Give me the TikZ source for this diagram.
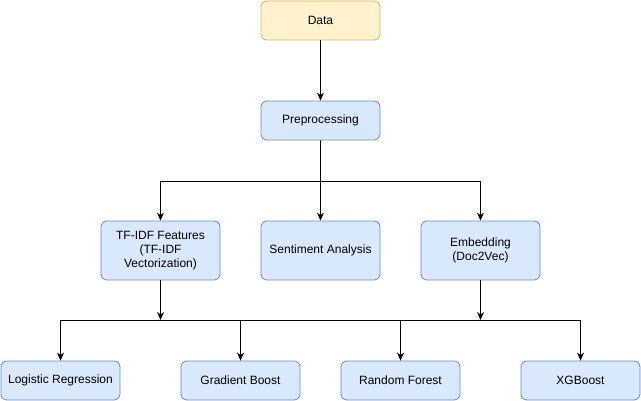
\documentclass[tikz,border=0pt]{standalone}
\usepackage{fontspec}
\setmainfont{Liberation Sans}
\usetikzlibrary{arrows.meta}
\definecolor{bfill}{HTML}{DAE8FC}
\definecolor{bdraw}{HTML}{6C8EBF}
\definecolor{yfill}{HTML}{FFF2CC}
\definecolor{ydraw}{HTML}{D6B656}
\begin{document}
\begin{tikzpicture}[x=1pt,y=-1pt,
  box/.style={draw=bdraw,fill=bfill,rounded corners=6pt,line width=0.8pt,minimum width=119pt,minimum height=39pt,align=center,font=\fontsize{12}{14}\selectfont,inner sep=0pt},
  tallbox/.style={box,minimum height=59pt},
  ybox/.style={box,draw=ydraw,fill=yfill},
  arr/.style={line width=0.9pt,-{Stealth[length=8pt,width=7pt,inset=2.5pt]}},
  ln/.style={line width=0.9pt}]
\useasboundingbox (0,0) rectangle (641,401);
\node[ybox] (data) at (320.5,20.5) {Data};
\node[box] (pre) at (320.5,120.5) {Preprocessing};
\node[tallbox] (tf) at (160.5,250.5) {TF-IDF Features\\(TF-IDF\\Vectorization)};
\node[tallbox] (sa) at (320.5,250.5) {Sentiment Analysis};
\node[tallbox] (emb) at (480.5,250.5) {Embedding\\(Doc2Vec)};
\node[box] (lr) at (60.5,380.5) {Logistic Regression};
\node[box] (gb) at (240.5,380.5) {Gradient Boost};
\node[box] (rf) at (400.5,380.5) {Random Forest};
\node[box] (xg) at (580.5,380.5) {XGBoost};
\coordinate (top) at (320.5,181);
\coordinate (j1) at (160.5,320);
\coordinate (j2) at (480.5,320);
\draw[arr] (data) -- (pre);
\draw[ln] (pre) -- (top);
\draw[arr] (top) -| (tf.north);
\draw[arr] (top) -| (emb.north);
\draw[arr] (top) -- (sa);
\draw[arr] (tf) -- (j1);
\draw[arr] (emb) -- (j2);
\draw[ln] (j1) -- (j2);
\draw[arr] (j1) -| (lr.north);
\draw[arr] (j1) -| (gb.north);
\draw[arr] (j2) -| (rf.north);
\draw[arr] (j2) -| (xg.north);
\end{tikzpicture}
\end{document}
